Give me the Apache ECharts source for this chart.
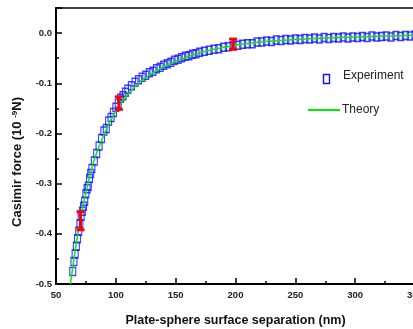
<!DOCTYPE html>
<html>
<head>
<meta charset="utf-8">
<script src="https://cdn.jsdelivr.net/npm/echarts@6/dist/echarts.min.js"></script>
<style>html,body{margin:0;padding:0;background:#fff}#c{width:413px;height:329px}</style>
</head>
<body>
<div id="c"></div>
<script>
var expX = [64,65,66,67,68,69,70,71,72,73,74,75,76,77,78,79,80,82,84,86,88,90,92,94,96,98,100,102,104,106,108,110,113,116,119,122,125,128,131,134,137,140,143,146,149,152,155,158,161,164,167,170,174,178,182,186,190,194,198,202,206,210,214,218,222,226,230,234,238,242,246,250,254,258,262,266,270,274,278,282,286,290,294,298,302,306,310,314,318,322,326,330,334,338,342,346,350];
var expY = [-0.475,-0.455,-0.44,-0.425,-0.41,-0.395,-0.38,-0.365,-0.355,-0.345,-0.335,-0.32,-0.31,-0.305,-0.29,-0.28,-0.27,-0.255,-0.24,-0.225,-0.21,-0.195,-0.19,-0.175,-0.168,-0.158,-0.148,-0.14,-0.13,-0.125,-0.118,-0.112,-0.105,-0.098,-0.093,-0.088,-0.084,-0.079,-0.076,-0.071,-0.068,-0.064,-0.061,-0.058,-0.054,-0.052,-0.049,-0.046,-0.045,-0.042,-0.041,-0.038,-0.036,-0.034,-0.032,-0.031,-0.028,-0.027,-0.025,-0.024,-0.022,-0.021,-0.021,-0.018,-0.018,-0.016,-0.017,-0.014,-0.015,-0.013,-0.014,-0.012,-0.013,-0.011,-0.012,-0.010,-0.012,-0.009,-0.011,-0.009,-0.010,-0.008,-0.010,-0.008,-0.009,-0.007,-0.009,-0.006,-0.008,-0.007,-0.006,-0.008,-0.005,-0.007,-0.005,-0.006,-0.004];
var thX = [62,65,70,75,80,85,90,95,100,105,110,120,130,140,150,160,175,190,200,225,250,275,300,325,350];
var thY = [-0.50,-0.45,-0.375,-0.318,-0.268,-0.232,-0.203,-0.177,-0.155,-0.137,-0.122,-0.098,-0.081,-0.067,-0.056,-0.047,-0.036,-0.028,-0.024,-0.017,-0.013,-0.010,-0.008,-0.006,-0.004];
var errX = [70.5, 102.5, 198];
var errLow = [-0.392, -0.152, -0.032];
var errHigh = [-0.356, -0.127, -0.012];
var xTicks = [50,100,150,200,250,300,350];
var yTicks = [-0.5,-0.4,-0.3,-0.2,-0.1,0.0];

var FONT = 'Liberation Sans, Arial, sans-serif';
var chart = echarts.init(document.getElementById('c'));
var expData = expX.map(function(x,i){return [x, expY[i]];});
var thData = thX.map(function(x,i){return [x, thY[i]];});
var errData = errX.map(function(x,i){return [x, errLow[i], errHigh[i]];});

chart.setOption({
  animation:false,
  backgroundColor:'#fff',
  grid:{left:56,top:8,right:-2,bottom:45,containLabel:false,outerBoundsMode:'none',
    show:true,borderColor:'#000',borderWidth:1.5,backgroundColor:'transparent'},
  xAxis:{
    type:'value', min:50, max:350, interval:50,
    axisLine:{onZero:false,lineStyle:{color:'#000',width:2}},
    axisTick:{inside:true,length:6,lineStyle:{color:'#000',width:1.5}},
    minorTick:{show:true,splitNumber:2,length:3,lineStyle:{color:'#000',width:1.5}},
    splitLine:{show:false},
    axisLabel:{color:'#222',fontFamily:FONT,fontSize:9.5,fontWeight:'bold',margin:6,
      formatter:function(v){return xTicks.indexOf(v)>=0?String(v):'';}},
    name:'Plate-sphere surface separation (nm)', nameLocation:'middle', nameGap:30,
    nameTextStyle:{color:'#111',fontFamily:FONT,fontSize:12.5,fontWeight:'bold'}
  },
  yAxis:{
    type:'value', min:-0.5, max:0.05, interval:0.1,
    axisLine:{onZero:false,lineStyle:{color:'#000',width:2}},
    axisTick:{inside:true,length:6,lineStyle:{color:'#000',width:1.5}},
    minorTick:{show:true,splitNumber:2,length:3,lineStyle:{color:'#000',width:1.5}},
    splitLine:{show:false},
    axisLabel:{color:'#222',fontFamily:FONT,fontSize:9.5,fontWeight:'bold',margin:4,
      formatter:function(v){
        for(var i=0;i<yTicks.length;i++){ if(Math.abs(v-yTicks[i])<1e-6){ return Math.abs(v)<1e-9?'0.0':v.toFixed(1);} }
        return '';
      }},
    name:'Casimir force (10 {sup|-9}N)', nameLocation:'middle', nameGap:32, nameRotate:90,
    nameTextStyle:{color:'#111',fontFamily:FONT,fontSize:13,fontWeight:'bold',padding:[0,0,0,-32],
      rich:{sup:{fontSize:8,fontWeight:'bold',fontFamily:FONT,color:'#111',verticalAlign:'top',padding:[0,0,5,0]}}}
  },
  series:[
    {type:'scatter', name:'Experiment', data:expData, symbol:'rect', symbolSize:[6,8],
      itemStyle:{color:'rgba(255,255,255,0)',borderColor:'#1010ff',borderWidth:1.3}, z:2},
    {type:'line', name:'Theory', data:thData, smooth:0.3, symbol:'none',
      lineStyle:{color:'#00ee00',width:1.5}, z:3},
    {type:'custom', name:'err', data:errData, z:4,
      renderItem:function(params, api){
        var x = api.value(0);
        var p1 = api.coord([x, api.value(1)]);
        var p2 = api.coord([x, api.value(2)]);
        var st = {stroke:'#ff0000', lineWidth:3};
        var hw = 4;
        return {type:'group', children:[
          {type:'line', shape:{x1:p1[0],y1:p1[1],x2:p2[0],y2:p2[1]}, style:st},
          {type:'line', shape:{x1:p1[0]-hw,y1:p1[1],x2:p1[0]+hw,y2:p1[1]}, style:st},
          {type:'line', shape:{x1:p2[0]-hw,y1:p2[1],x2:p2[0]+hw,y2:p2[1]}, style:st}
        ]};
      }}
  ],
  graphic:[
    {type:'rect', left:321, top:72, shape:{width:6,height:9}, style:{fill:'none',stroke:'#1010ff',lineWidth:1.4}},
    {type:'text', left:343, top:70, style:{text:'Experiment',font:'12px '+FONT,fill:'#222'}},
    {type:'line', shape:{x1:308,y1:110,x2:340,y2:110}, style:{stroke:'#00ee00',lineWidth:2}},
    {type:'text', left:342, top:104, style:{text:'Theory',font:'12px '+FONT,fill:'#222'}}
  ]
});
</script>
</body>
</html>
